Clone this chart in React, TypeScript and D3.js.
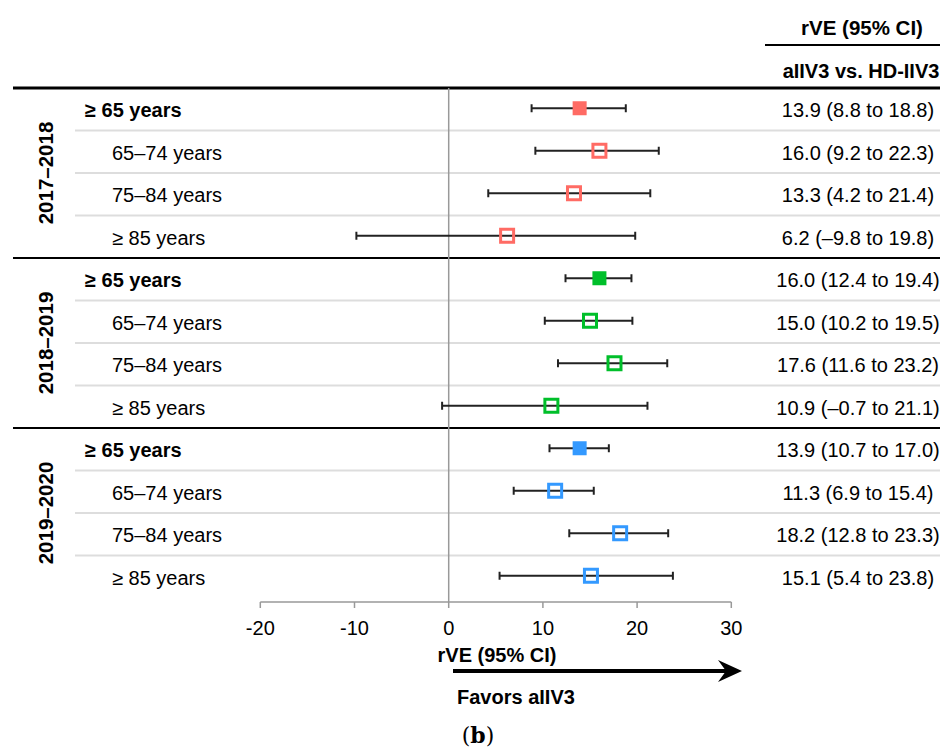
import React from 'react';
import * as d3 from 'd3';

const seasons = ['2017–2018', '2018–2019', '2019–2020'];
const ageGroups = ['≥ 65 years', '65–74 years', '75–84 years', '≥ 85 years'];
const estimates = [
  [13.9, 16.0, 13.3, 6.2],
  [16.0, 15.0, 17.6, 10.9],
  [13.9, 11.3, 18.2, 15.1],
];
const lower = [
  [8.8, 9.2, 4.2, -9.8],
  [12.4, 10.2, 11.6, -0.7],
  [10.7, 6.9, 12.8, 5.4],
];
const upper = [
  [18.8, 22.3, 21.4, 19.8],
  [19.4, 19.5, 23.2, 21.1],
  [17.0, 15.4, 23.3, 23.8],
];
const seasonColors = ['#FF6B64', '#00BF2A', '#3399FF'];
const xTicks = [-20, -10, 0, 10, 20, 30];

const W = 940, H = 749;
const font = '"Liberation Sans", Arial, sans-serif';

const fmt = (v: number) => v.toFixed(1).replace('-', '–');

const rows = seasons.flatMap((s, si) =>
  ageGroups.map((a, ai) => ({
    key: `${si}-${ai}`, season: si, age: ai, label: a,
    est: estimates[si][ai], lo: lower[si][ai], hi: upper[si][ai],
  })));

export default function App() {
  const x = d3.scaleLinear().domain([-20, 30]).range([260.3, 731.3]);
  const y = d3.scaleBand<string>()
    .domain(rows.map(r => r.key))
    .range([88, 598])
    .padding(0);
  const bw = y.bandwidth();
  const axisY = 602;
  const colX = 858;

  return (
    <svg width={W} height={H} style={{ position: 'absolute', left: 0, top: 0, background: '#fff' }}
         fontFamily={font}>
      <rect width={W} height={H} fill="#fff" />

      {/* header */}
      <text x={862} y={27} fontSize={20.5} fontWeight="bold" textAnchor="middle" dominantBaseline="central">rVE (95% CI)</text>
      <line x1={765} x2={940} y1={45} y2={45} stroke="#000" strokeWidth={2.2} />
      <text x={861} y={71} fontSize={20} fontWeight="bold" textAnchor="middle" dominantBaseline="central">aIIV3 vs. HD-IIV3</text>
      <line x1={13} x2={940} y1={88} y2={88} stroke="#000" strokeWidth={3} />

      {/* row separators */}
      {rows.map(r => r.age > 0 && (
        <line key={'sep' + r.key} x1={75} x2={940} y1={y(r.key)} y2={y(r.key)} stroke="#dddddd" strokeWidth={2} />
      ))}
      {seasons.map((s, si) => si > 0 && (
        <line key={'sec' + si} x1={13} x2={940} y1={y(`${si}-0`)} y2={y(`${si}-0`)} stroke="#000" strokeWidth={2} />
      ))}

      {/* zero line and axis */}
      <line x1={x(0)} x2={x(0)} y1={88} y2={axisY} stroke="#999" strokeWidth={1.5} />
      <line x1={x(-20)} x2={x(30)} y1={axisY} y2={axisY} stroke="#999" strokeWidth={1.5} />
      {xTicks.map(t => (
        <g key={t}>
          <line x1={x(t)} x2={x(t)} y1={axisY} y2={axisY + 6} stroke="#999" strokeWidth={1.5} />
          <text x={x(t)} y={628} fontSize={20} textAnchor="middle" dominantBaseline="central">{t}</text>
        </g>
      ))}

      {/* season labels */}
      {seasons.map((s, si) => {
        const cy = (y(`${si}-0`)! + y(`${si}-3`)! + bw) / 2;
        return (
          <text key={s} transform={`translate(45,${cy}) rotate(-90)`} fontSize={20.5} fontWeight="bold"
                textAnchor="middle" dominantBaseline="central">{s}</text>
        );
      })}

      {/* rows */}
      {rows.map(r => {
        const cy = y(r.key)! + bw / 2;
        const col = seasonColors[r.season];
        const bold = r.age === 0;
        return (
          <g key={r.key}>
            <text x={bold ? 85 : 112} y={cy + 1} fontSize={20} fontWeight={bold ? 'bold' : 'normal'}
                  dominantBaseline="central">{r.label}</text>
            <line x1={x(r.lo)} x2={x(r.hi)} y1={cy - 1} y2={cy - 1} stroke="#222" strokeWidth={2} />
            <line x1={x(r.lo)} x2={x(r.lo)} y1={cy - 5} y2={cy + 3} stroke="#222" strokeWidth={2} />
            <line x1={x(r.hi)} x2={x(r.hi)} y1={cy - 5} y2={cy + 3} stroke="#222" strokeWidth={2} />
            {bold
              ? <rect x={x(r.est) - 7} y={cy - 8} width={14} height={14} fill={col} />
              : <rect x={x(r.est) - 6.5} y={cy - 7.5} width={13} height={13} fill="none" stroke={col} strokeWidth={3} />}
            <text x={colX} y={cy + 1} fontSize={20} textAnchor="middle" dominantBaseline="central">
              {`${fmt(r.est)} (${fmt(r.lo)} to ${fmt(r.hi)})`}
            </text>
          </g>
        );
      })}

      {/* axis title and arrow */}
      <text x={497} y={655} fontSize={20} fontWeight="bold" textAnchor="middle" dominantBaseline="central">rVE (95% CI)</text>
      <line x1={453} x2={730} y1={671} y2={671} stroke="#000" strokeWidth={4} />
      <path d="M742,671 L718,660 L726,671 L718,682 Z" fill="#000" />
      <text x={457} y={697} fontSize={20} fontWeight="bold" dominantBaseline="central">Favors aIIV3</text>

      <text x={478} y={735} fontSize={22} fontFamily='"DejaVu Serif", "Liberation Serif", serif'
            textAnchor="middle" dominantBaseline="central">
        (<tspan fontWeight="bold">b</tspan>)
      </text>
    </svg>
  );
}
